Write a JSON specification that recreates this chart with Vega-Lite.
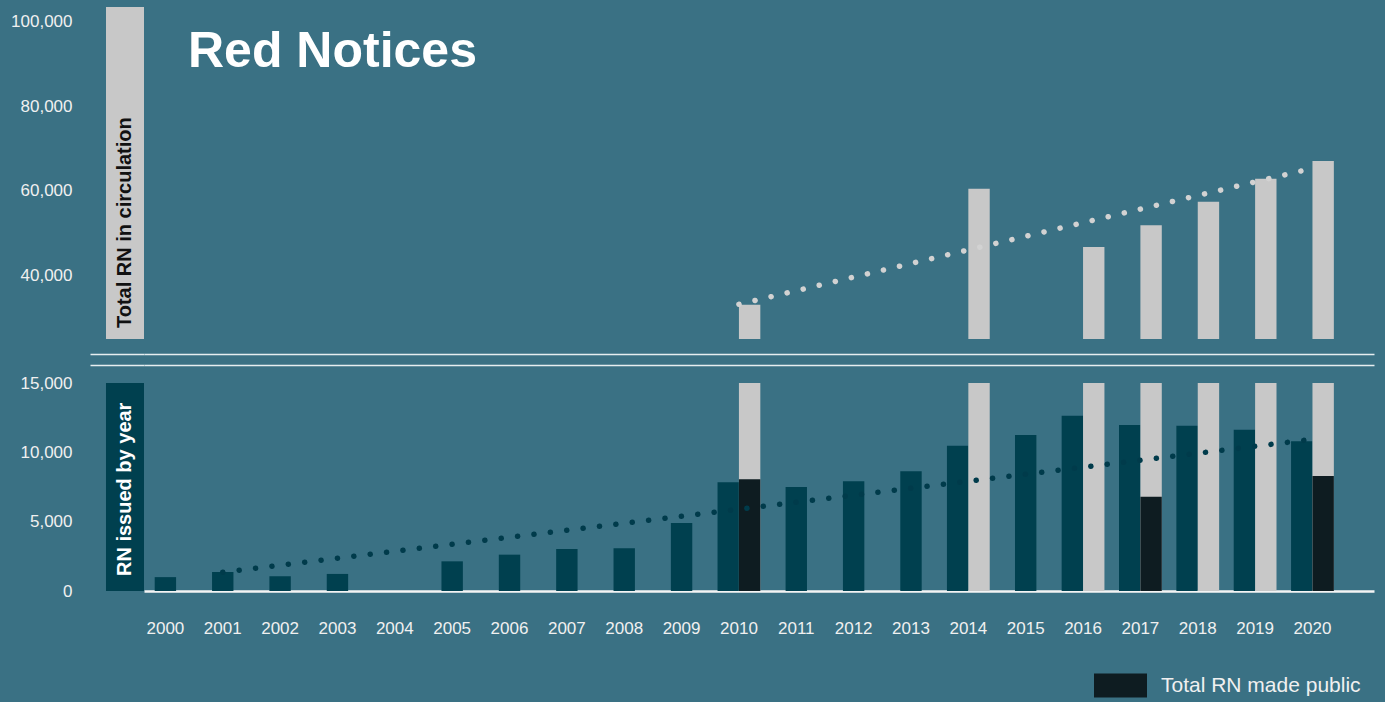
{
  "$schema": "https://vega.github.io/schema/vega-lite/v6.json",
  "background": "#3a7184",
  "padding": {"left": 10, "top": 7, "right": 12, "bottom": 6},
  "config": {
    "view": {"stroke": null},
    "font": "Liberation Sans",
    "axis": {"grid": false, "ticks": false}
  },
  "datasets": {
    "rn": [
      {"year": 2000, "series": "RN issued by year", "value": 1000},
      {"year": 2001, "series": "RN issued by year", "value": 1370},
      {"year": 2002, "series": "RN issued by year", "value": 1060},
      {"year": 2003, "series": "RN issued by year", "value": 1230},
      {"year": 2004, "series": "RN issued by year", "value": 0},
      {"year": 2005, "series": "RN issued by year", "value": 2140},
      {"year": 2006, "series": "RN issued by year", "value": 2620},
      {"year": 2007, "series": "RN issued by year", "value": 3030},
      {"year": 2008, "series": "RN issued by year", "value": 3080},
      {"year": 2009, "series": "RN issued by year", "value": 4900},
      {"year": 2010, "series": "RN issued by year", "value": 7840},
      {"year": 2011, "series": "RN issued by year", "value": 7500},
      {"year": 2012, "series": "RN issued by year", "value": 7910},
      {"year": 2013, "series": "RN issued by year", "value": 8630},
      {"year": 2014, "series": "RN issued by year", "value": 10480},
      {"year": 2015, "series": "RN issued by year", "value": 11250},
      {"year": 2016, "series": "RN issued by year", "value": 12640},
      {"year": 2017, "series": "RN issued by year", "value": 11970},
      {"year": 2018, "series": "RN issued by year", "value": 11920},
      {"year": 2019, "series": "RN issued by year", "value": 11630},
      {"year": 2020, "series": "RN issued by year", "value": 10800},
      {"year": 2010, "series": "Total RN in circulation", "value": 33100},
      {"year": 2014, "series": "Total RN in circulation", "value": 60540},
      {"year": 2016, "series": "Total RN in circulation", "value": 46750},
      {"year": 2017, "series": "Total RN in circulation", "value": 51880},
      {"year": 2018, "series": "Total RN in circulation", "value": 57460},
      {"year": 2019, "series": "Total RN in circulation", "value": 62900},
      {"year": 2020, "series": "Total RN in circulation", "value": 67090},
      {"year": 2010, "series": "Total RN made public", "value": 8060},
      {"year": 2017, "series": "Total RN made public", "value": 6800},
      {"year": 2020, "series": "Total RN made public", "value": 8290},
      {"year": 2010, "series": "Circulation trend", "value": 33200},
      {"year": 2020, "series": "Circulation trend", "value": 65360},
      {"year": 2001, "series": "Issued trend", "value": 1350},
      {"year": 2020, "series": "Issued trend", "value": 10940}
    ]
  },
  "data": {"name": "rn"},
  "columns": 2,
  "spacing": {"row": 44, "column": 0},
  "bounds": "flush",
  "concat": [
    {
      "width": 54,
      "height": 332,
      "data": {"values": [{"panel": "Total RN in circulation"}]},
      "layer": [
        {
          "mark": {"type": "rect", "color": "#c8c8c8"},
          "encoding": {
            "x": {
              "field": "panel", "type": "nominal",
              "scale": {"paddingInner": 0, "paddingOuter": 0.2105, "align": 1},
              "axis": {"orient": "bottom", "title": null, "labels": false, "ticks": false, "domainColor": "#e6eef0", "domainWidth": 1.5, "offset": 15}
            }
          }
        },
        {
          "mark": {"type": "text", "angle": 270, "align": "left", "baseline": "middle", "dx": 11, "fontSize": 20, "fontWeight": "bold", "color": "#111111"},
          "encoding": {
            "x": {
              "field": "panel", "type": "nominal",
              "axis": {"orient": "bottom", "title": null, "labels": false, "ticks": false, "domainColor": "#e6eef0", "domainWidth": 1.5, "offset": 26}
            },
            "y": {
              "datum": 25000, "type": "quantitative",
              "scale": {"domain": [25000, 103500], "zero": false, "nice": false},
              "axis": {"values": [40000, 60000, 80000, 100000], "labelExpr": "format(datum.value, ',')", "title": null, "domain": false, "ticks": false, "labelFontSize": 17, "labelColor": "#f0f0f0", "labelPadding": 18}
            },
            "text": {"field": "panel"}
          }
        }
      ],
      "resolve": {"axis": {"x": "independent"}}
    },
    {
      "width": 1230,
      "height": 332,
      "title": {"text": "Red Notices", "anchor": "start", "frame": "group", "orient": "top", "offset": -61, "baseline": "alphabetic", "dx": 44, "dy": 49, "fontSize": 50, "fontWeight": "bold", "color": "#ffffff", "font": "Liberation Sans"},
      "layer": [
        {
          "transform": [{"filter": "datum.series === 'Total RN in circulation'"}],
          "mark": {"type": "bar", "color": "#c8c8c8"},
          "encoding": {
            "x": {
              "field": "year", "type": "ordinal",
              "scale": {"domain": [2000, 2001, 2002, 2003, 2004, 2005, 2006, 2007, 2008, 2009, 2010, 2011, 2012, 2013, 2014, 2015, 2016, 2017, 2018, 2019, 2020], "paddingInner": 0.254, "paddingOuter": 0.35, "align": 0},
              "axis": {"orient": "bottom", "title": null, "labels": false, "ticks": false, "domainColor": "#e6eef0", "domainWidth": 1.5, "offset": 15}
            },
            "xOffset": {"field": "series", "scale": {"domain": ["RN issued by year", "Total RN in circulation"], "paddingInner": 0, "paddingOuter": 0}},
            "y": {"field": "value", "type": "quantitative", "scale": {"domain": [25000, 103500], "zero": false, "nice": false, "clamp": true}, "axis": null}
          }
        },
        {
          "transform": [{"filter": "datum.series === 'Circulation trend'"}],
          "mark": {"type": "line", "color": "#d2d2d2", "strokeWidth": 5.5, "strokeCap": "round", "strokeDash": [0.1, 16.4]},
          "encoding": {
            "x": {
              "field": "year", "type": "ordinal",
              "axis": {"orient": "bottom", "title": null, "labels": false, "ticks": false, "domainColor": "#e6eef0", "domainWidth": 1.5, "offset": 26}
            },
            "y": {"field": "value", "type": "quantitative"}
          }
        }
      ],
      "resolve": {"axis": {"x": "independent"}}
    },
    {
      "width": 54,
      "height": 208,
      "data": {"values": [{"panel": "RN issued by year"}]},
      "layer": [
        {
          "mark": {"type": "rect", "color": "#00404f"},
          "encoding": {
            "x": {
              "field": "panel", "type": "nominal",
              "scale": {"paddingInner": 0, "paddingOuter": 0.2105, "align": 1},
              "axis": null
            }
          }
        },
        {
          "mark": {"type": "text", "angle": 270, "align": "left", "baseline": "middle", "dx": 15, "fontSize": 20, "fontWeight": "bold", "color": "#ffffff"},
          "encoding": {
            "x": {"field": "panel", "type": "nominal", "axis": null},
            "y": {
              "datum": 0, "type": "quantitative",
              "scale": {"domain": [0, 15000], "nice": false},
              "axis": {"values": [0, 5000, 10000, 15000], "labelExpr": "format(datum.value, ',')", "title": null, "domain": false, "ticks": false, "labelFontSize": 17, "labelColor": "#f0f0f0", "labelPadding": 18}
            },
            "text": {"field": "panel"}
          }
        }
      ]
    },
    {
      "width": 1230,
      "height": 208,
      "encoding": {
        "x": {
          "field": "year", "type": "ordinal",
          "scale": {"domain": [2000, 2001, 2002, 2003, 2004, 2005, 2006, 2007, 2008, 2009, 2010, 2011, 2012, 2013, 2014, 2015, 2016, 2017, 2018, 2019, 2020], "paddingInner": 0.254, "paddingOuter": 0.35, "align": 0},
          "axis": {"orient": "bottom", "title": null, "labelAngle": 0, "labelColor": "#f0f0f0", "labelFontSize": 17, "labelPadding": 29, "ticks": false, "domainColor": "#f4f4f4", "domainWidth": 2.5}
        },
        "y": {"field": "value", "type": "quantitative", "scale": {"domain": [0, 15000], "nice": false, "clamp": true}, "axis": null}
      },
      "layer": [
        {
          "transform": [
            {"filter": {"field": "series", "oneOf": ["RN issued by year", "Total RN in circulation", "Total RN made public"]}},
            {"joinaggregate": [{"op": "count", "as": "n"}], "groupby": ["year"]},
            {"filter": "datum.series === 'RN issued by year' && datum.n === 1"}
          ],
          "mark": {"type": "bar", "width": {"band": 0.5}},
          "encoding": {
            "color": {
              "field": "series", "type": "nominal",
              "scale": {"domain": ["RN issued by year", "Total RN in circulation", "Total RN made public"], "range": ["#00404f", "#c8c8c8", "#0e1c21"]},
              "legend": {"values": ["Total RN made public"], "orient": "none", "legendX": 1004, "legendY": 652, "title": null, "symbolType": "M-1,-0.453H1V0.453H-1Z", "symbolSize": 2809, "symbolStrokeWidth": 0, "symbolOpacity": 1, "labelFontSize": 21, "labelColor": "#f0f0f0", "labelOffset": 14, "labelLimit": 0, "padding": 0, "labelFont": "Liberation Sans"}
            }
          }
        },
        {
          "transform": [
            {"filter": {"field": "series", "oneOf": ["RN issued by year", "Total RN in circulation", "Total RN made public"]}},
            {"joinaggregate": [{"op": "count", "as": "n"}], "groupby": ["year"]},
            {"filter": "datum.series === 'RN issued by year' && datum.n > 1"}
          ],
          "mark": {"type": "bar"},
          "encoding": {
            "xOffset": {"field": "series", "scale": {"domain": ["RN issued by year", "Total RN in circulation"], "paddingInner": 0, "paddingOuter": 0}},
            "color": {"field": "series", "type": "nominal"}
          }
        },
        {
          "transform": [{"filter": "datum.series === 'Total RN in circulation'"}],
          "mark": {"type": "bar"},
          "encoding": {
            "xOffset": {"field": "series"},
            "color": {"field": "series", "type": "nominal"}
          }
        },
        {
          "transform": [{"filter": "datum.series === 'Total RN made public'"}],
          "mark": {"type": "bar"},
          "encoding": {
            "xOffset": {"datum": "Total RN in circulation"},
            "color": {"field": "series", "type": "nominal"}
          }
        },
        {
          "transform": [{"filter": "datum.series === 'Issued trend'"}],
          "mark": {"type": "line", "color": "#003b4b", "strokeWidth": 5.5, "strokeCap": "round", "strokeDash": [0.1, 16.4]},
          "encoding": {}
        }
      ]
    }
  ]
}
